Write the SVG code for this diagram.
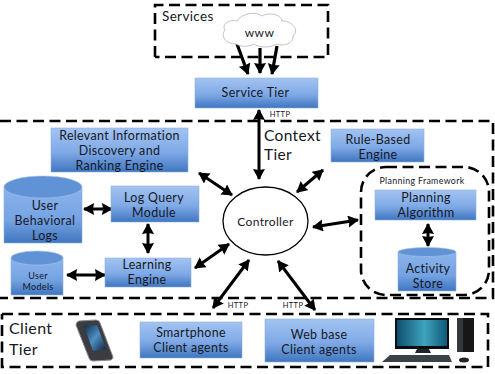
<svg xmlns="http://www.w3.org/2000/svg" width="495" height="374" viewBox="0 0 495 374">
  <style>
    text { font-family: Lato, "Open Sans", "Liberation Sans", sans-serif; fill: #15181f; text-anchor: middle; font-size: 12.400px; letter-spacing: .35px; }
    .box { fill: url(#blue); stroke: #8fb0dc; stroke-width: .6; }
    .can { fill: url(#blue2); stroke: #8fb0dc; stroke-width: .6; }
    .lid { fill: #5f93d6; stroke: #a7c3e8; stroke-width: .6; }
    .tier { fill: none; stroke: #000; stroke-width: 2.600; stroke-dasharray: 11 5.500; }
    .link { fill: none; stroke: #000; stroke-width: 3; marker-start: url(#tip); marker-end: url(#tip); }
    .one { fill: none; stroke: #000; stroke-width: 3.200; marker-end: url(#tip); }
    .left { text-anchor: start; }
    .tiny { font-size: 7.500px; }
  </style>
  <defs>
    <linearGradient id="blue" x1="0" y1="0" x2="0" y2="1">
      <stop offset="0" stop-color="#a3c4f2"/>
      <stop offset=".55" stop-color="#7fa9e6"/>
      <stop offset="1" stop-color="#3f76c0"/>
    </linearGradient>
    <linearGradient id="blue2" x1="0" y1="0" x2="0" y2="1">
      <stop offset="0" stop-color="#8cb4ec"/>
      <stop offset=".6" stop-color="#74a2e2"/>
      <stop offset="1" stop-color="#3f76c0"/>
    </linearGradient>
    <linearGradient id="screen" x1="0" y1="0" x2="1" y2="0">
      <stop offset="0" stop-color="#0d4f6e"/>
      <stop offset=".55" stop-color="#3fa3bd"/>
      <stop offset="1" stop-color="#0f5a78"/>
    </linearGradient>
    <linearGradient id="phone" x1="0" y1="0" x2="1" y2="1">
      <stop offset="0" stop-color="#0e2a44"/>
      <stop offset=".5" stop-color="#4d8fc4"/>
      <stop offset="1" stop-color="#10233a"/>
    </linearGradient>
    <marker id="tip" markerUnits="userSpaceOnUse" markerWidth="12" markerHeight="13" refX="10" refY="6" orient="auto-start-reverse">
      <path d="M0 0L11 6L0 12L1 6Z" fill="#000"/>
    </marker>
  </defs>

  <g id="tier-frames">
    <path class="tier" d="M155 57V5H328V57H155"/>
    <path class="tier" d="M0 121H493V298H0"/>
    <path class="tier" d="M2 314H488V367H2V314"/>
    <rect class="tier" x="361" y="167" width="128" height="128" rx="25"/>
  </g>

  <g id="connectors">
    <path class="one" d="M237 44L248 74"/>
    <path class="one" d="M260 48V73"/>
    <path class="one" d="M277 46L272 74"/>
    <path class="link" d="M259 110V179"/>
    <path class="link" d="M199 173L232 195"/>
    <path class="link" d="M323 170L297 192"/>
    <path class="link" d="M313 227L358 220"/>
    <path class="link" d="M84 209H112"/>
    <path class="link" d="M148 224V253"/>
    <path class="link" d="M67 275H105"/>
    <path class="link" d="M195 268L229 244"/>
    <path class="link" d="M213 308L249 260"/>
    <path class="link" d="M278 261L315 310"/>
    <path class="link" d="M428 224V246"/>
  </g>

  <g id="services-label"><text class="left" x="162" y="21" style="font-size:13.500px">Services</text></g>
  <g id="www">
    <path d="M236 44C226 44 220 36 225 30C221 24 230 19 237 21C242 13 256 11 262 16C269 12 281 14 282 21C292 21 300 30 293 36C294 43 284 47 277 44C270 48 259 48 254 44C248 47 241 47 236 44Z" fill="#fff" stroke="#a9a9a9" stroke-width=".7"/>
    <text x="259.500" y="37" style="font-size:12px">www</text>
  </g>
  <g id="service-tier">
    <rect class="box" x="195" y="78" width="123" height="30"/>
    <text x="255.500" y="96.500">Service Tier</text>
  </g>
  <g id="http-service"><text class="tiny" x="280" y="117">HTTP</text></g>
  <g id="context-label">
    <text class="left" x="264" y="141" style="font-size:15.500px">Context</text>
    <text class="left" x="264" y="160" style="font-size:15.500px">Tier</text>
  </g>

  <g id="relevant-information">
    <rect class="box" x="51" y="128" width="137" height="44"/>
    <text x="119.500" y="139.500">Relevant Information</text>
    <text x="119.500" y="154.500">Discovery and</text>
    <text x="119.500" y="169.500">Ranking Engine</text>
  </g>
  <g id="rule-based-engine">
    <rect class="box" x="331" y="129" width="93" height="33"/>
    <text x="378" y="143.500">Rule-Based</text>
    <text x="378" y="158.500">Engine</text>
  </g>
  <g id="user-behavioral-logs">
    <path class="can" d="M4 187V243H82V187Z"/>
    <ellipse class="lid" cx="43" cy="187" rx="39" ry="11"/>
    <text x="45" y="209.500">User</text>
    <text x="45" y="224.500">Behavioral</text>
    <text x="45" y="239.500">Logs</text>
  </g>
  <g id="log-query-module">
    <rect class="box" x="111" y="186" width="88" height="36"/>
    <text x="154" y="201.500">Log Query</text>
    <text x="154" y="216.500">Module</text>
  </g>
  <g id="user-models">
    <path class="can" d="M11 258V295H63V258Z"/>
    <ellipse class="lid" cx="37" cy="258" rx="26" ry="7"/>
    <text x="38" y="278.500" style="font-size:9px">User</text>
    <text x="38" y="290" style="font-size:9px">Models</text>
  </g>
  <g id="learning-engine">
    <rect class="box" x="105" y="258" width="86" height="29"/>
    <text x="147" y="268.500">Learning</text>
    <text x="147" y="283.500">Engine</text>
  </g>
  <g id="controller">
    <ellipse cx="265.500" cy="221" rx="42.500" ry="34" fill="#fff" stroke="#000" stroke-width="1.300"/>
    <text x="265.500" y="226" style="font-size:12px">Controller</text>
  </g>
  <g id="planning-framework">
    <text x="422" y="184" style="font-size:8.800px">Planning Framework</text>
  </g>
  <g id="planning-algorithm">
    <rect class="box" x="375" y="190" width="101" height="30"/>
    <text x="426" y="201.500">Planning</text>
    <text x="426" y="216.500">Algorithm</text>
  </g>
  <g id="activity-store">
    <path class="can" d="M398 252V291H456V252Z"/>
    <ellipse class="lid" cx="427" cy="252" rx="29" ry="4.500"/>
    <text x="428" y="272.500">Activity</text>
    <text x="428" y="287.500">Store</text>
  </g>

  <g id="http-left"><text class="tiny" x="238" y="308">HTTP</text></g>
  <g id="http-right"><text class="tiny" x="293" y="308">HTTP</text></g>

  <g id="client-label">
    <text class="left" x="9" y="334" style="font-size:16px">Client</text>
    <text class="left" x="9" y="355" style="font-size:16px">Tier</text>
  </g>
  <g id="smartphone-icon">
    <path d="M79 321L96 320Q99 320 100 323L113 357Q113 359 111 360L93 361Q90 361 89 358L76 325Q76 322 79 321Z" fill="#3b3b42" stroke="#8a8a90" stroke-width="1"/>
    <path d="M84 326L97 325L106 349L93 351Z" fill="url(#phone)"/>
  </g>
  <g id="smartphone-agents">
    <rect class="box" x="140" y="322" width="102" height="36"/>
    <text x="191" y="336.500">Smartphone</text>
    <text x="191" y="351.500">Client agents</text>
  </g>
  <g id="web-agents">
    <rect class="box" x="265" y="319" width="109" height="43"/>
    <text x="319" y="339">Web base</text>
    <text x="319" y="354">Client agents</text>
  </g>
  <g id="desktop-icon">
    <rect x="457" y="318" width="17" height="34" fill="#17171a"/>
    <rect x="457" y="318" width="6" height="34" fill="#33363b"/>
    <rect x="395" y="318" width="54" height="31" fill="#0c0d10"/>
    <rect x="397" y="320" width="50" height="26" fill="url(#screen)"/>
    <path d="M417 349H429L431 353H415Z" fill="#22252a"/>
    <path d="M382 362L390 355H449L452 362Z" fill="#3a4248"/>
    <ellipse cx="464" cy="360" rx="5" ry="2.500" fill="#222"/>
  </g>
</svg>
